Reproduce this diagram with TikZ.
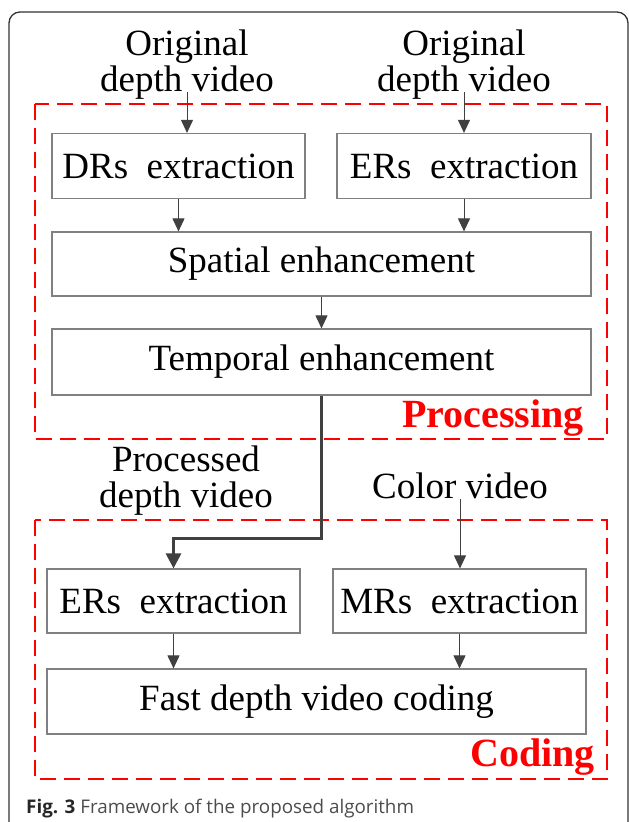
\documentclass[tikz,border=0pt]{standalone}
\usepackage{fontspec}
\setmainfont{Liberation Serif}
\newfontfamily\capfont{Open Sans}
\usetikzlibrary{arrows.meta}

\tikzset{
  stage/.style={draw=black!50, line width=1.2pt, inner sep=0pt, minimum height=65pt,
    font=\fontsize{37}{36}\selectfont},
  inlabel/.style={inner sep=0pt, align=center, font=\fontsize{37}{36}\selectfont},
  flow/.style={draw=black!75, line width=1pt, -{Triangle[length=13pt,width=12pt]}},
  mainflow/.style={draw=black!75, line width=3pt, -{Triangle[length=15pt,width=15pt]}},
  group/.style={draw=red, line width=2pt, dash pattern=on 16pt off 8pt},
  grouplabel/.style={inner sep=0pt, text=red, font=\fontsize{40}{40}\selectfont\bfseries}
}

\begin{document}
\begin{tikzpicture}[x=1pt, y=-1pt]
  \useasboundingbox (0,0) rectangle (629,822);
  \draw [black!80, line width=1.3pt, rounded corners=11pt] (9,12) rectangle (628,850);

  % processing stage
  \node [inlabel, anchor=base] (orig1) at (187,91) {Original\\depth video};
  \node [inlabel, anchor=base] (orig2) at (464,91) {Original\\depth video};
  \node [stage, minimum width=253pt] (drs) at (178.5,166) {DRs~~extraction};
  \node [stage, minimum width=254pt] (ers) at (464,166) {ERs~~extraction};
  \node [stage, minimum width=539pt, minimum height=64pt] (spatial) at (321.5,264) {Spatial enhancement};
  \node [stage, minimum width=539pt, minimum height=66pt] (temporal) at (321.5,362) {Temporal enhancement};
  \draw [group] (35,104) rectangle (607,439);
  \node [grouplabel, anchor=base east] (proclabel) at (584,427) {Processing};

  \draw [flow] ([yshift=7pt]orig1.south) -- (orig1.south |- drs.north);
  \draw [flow] ([yshift=7pt]orig2.south) -- (orig2.south |- ers.north);
  \draw [flow] (drs.south) -- (drs.south |- spatial.north);
  \draw [flow] (ers.south) -- (ers.south |- spatial.north);
  \draw [flow] (spatial) -- (temporal);

  % coding stage
  \node [inlabel, anchor=base] (procd) at (186,507) {Processed\\depth video};
  \node [inlabel, anchor=base] (color) at (460,498) {Color video};
  \node [stage, minimum width=253pt, minimum height=64pt] (ers2) at (173.5,601) {ERs~~extraction};
  \node [stage, minimum width=253pt, minimum height=64pt] (mrs) at (459.5,601) {MRs~~extraction};
  \node [stage, minimum width=539pt] (fast) at (316.5,701.5) {Fast depth video coding};
  \draw [group] (35,520) rectangle (607,779);
  \node [grouplabel, anchor=base east] (codlabel) at (595,766) {Coding};

  \draw [mainflow] (temporal.south) -- ++(0,143) -| (ers2.north);
  \draw [flow] (color.south) -- (color.south |- mrs.north);
  \draw [flow] (ers2.south) -- (ers2.south |- fast.north);
  \draw [flow] (mrs.south) -- (mrs.south |- fast.north);

  \node [anchor=base west, inner sep=0pt, font=\capfont\fontsize{18.8}{19}\selectfont] (caption) at (26,813)
    {\textcolor{black!85}{\bfseries Fig. 3} \textcolor{black!70}{Framework of the proposed algorithm}};
\end{tikzpicture}
\end{document}
